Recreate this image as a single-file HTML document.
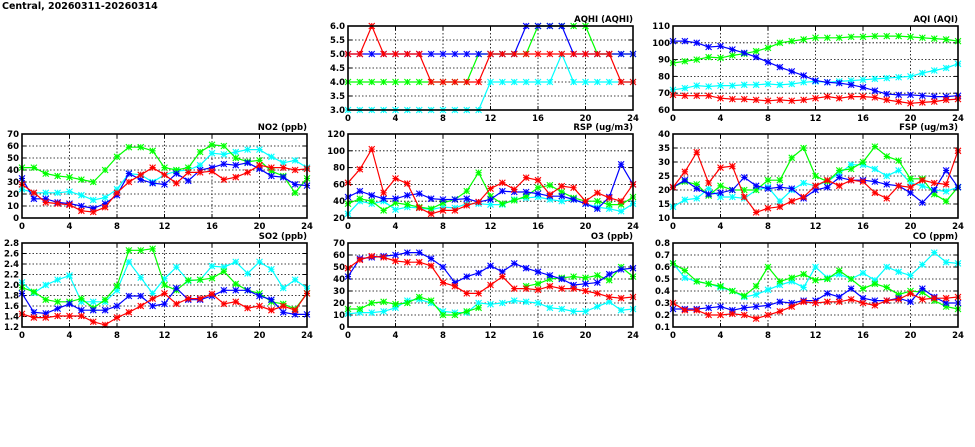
<!DOCTYPE html>
<html><head><meta charset="utf-8"><style>
html,body{margin:0;padding:0;background:#fff;width:975px;height:447px;overflow:hidden}
svg text{font-family:"DejaVu Sans","Liberation Sans",sans-serif;font-weight:bold;font-size:8.5px;fill:#000}
</style></head><body>
<svg id="s" width="975" height="447" xmlns="http://www.w3.org/2000/svg">
<text x="2" y="9" style="font-size:9.5px">Central, 20260311-20260314</text>
</svg>
<script>
const N=null;
const P=[
{t:"AQHI (AQHI)",x:348,y:26,min:3,max:6,st:0.5,d:1,s:{
c:[3,3,3,3,3,3,3,3,3,3,3,3,4,4,4,4,4,4,5,4,4,4,4,4,4],
g:[4,4,4,4,4,4,4,4,4,4,4,5,5,5,5,5,6,6,6,6,6,5,5,5,5],
b:[5,5,5,5,5,5,5,5,5,5,5,5,5,5,5,6,6,6,6,5,5,5,5,5,5],
r:[5,5,6,5,5,5,5,4,4,4,4,4,5,5,5,5,5,5,5,5,5,5,5,4,4]}},
{t:"AQI (AQI)",x:673,y:26,min:60,max:110,st:10,d:0,s:{
c:[72,73,74.5,74,74.5,74.5,75,75,75.5,75,75.5,76.5,77,76.5,77,77.5,78,78.5,79,79.5,80,82,83.5,85,87.5],
g:[88,89,90,91.5,91,92.5,93.5,95,97,100,101,102,103,103,103,103.5,103.5,104,104,104,103.5,103,102.5,102,101],
b:[101,101,100,97.5,98,96,94,91.5,88.5,85.5,83,80.5,77.5,76.5,76,75,73.5,71.5,69.5,69,69,68.5,68,68,68.5],
r:[69,68.5,68.5,68.5,67,66.5,66.5,66,65.5,66,65.5,66,67,68,67,68,68,67.5,66,65,64,64.5,65,66,66.5]}},
{t:"NO2 (ppb)",x:22,y:134,min:0,max:70,st:10,d:0,s:{
c:[24,21,21,21,22,19,15,17,24,37,36,30,36,39,40,44,54,53,55,57,57,51,46,48,42],
g:[42,42,37,35,34,32,30,40,51,59,59,56,42,40,42,55,61,60,50,47,48,39,35,21,33],
b:[33,16,16,13,12,10,8,12,19,37,32,29,28,37,31,40,42,45,44,46,41,35,34,28,27],
r:[28,21,13,12,11,6,5,9,21,30,36,42,36,29,38,38,39,32,34,38,44,42,42,40,41]}},
{t:"RSP (ug/m3)",x:348,y:134,min:20,max:120,st:20,d:0,s:{
c:[25,40,37,40,30,33,32,30,33,32,37,37,36,36,42,44,45,42,40,42,37,33,31,28,37],
g:[37,43,40,29,38,36,33,31,38,42,52,74,46,37,41,46,56,59,51,44,40,40,36,36,45],
b:[45,52,47,43,43,47,49,43,42,42,43,39,42,52,51,51,49,46,46,42,37,31,45,84,60],
r:[62,78,102,50,67,61,32,25,29,29,35,39,55,62,54,68,65,48,58,56,40,50,44,40,60]}},
{t:"FSP (ug/m3)",x:673,y:134,min:10,max:40,st:5,d:0,s:{
c:[14,16.5,17,20.5,17.5,17.5,17,20,21,16,20,22.5,21.5,23,26,29,29,27.5,25,27,22.5,21.5,20,19.5,21],
g:[21,23,22,18,21.5,20,20,20,23.5,23.5,31.5,35,25,23,27,27.5,30,35.5,32,30.5,24,24,18.5,16,21],
b:[21,23.5,20.5,18.5,19,20,24.5,21.5,20.5,21,20.5,17,20,21,24.5,23.5,23.5,23,22,21.5,19,15.5,20,27,21],
r:[21,26.5,33.5,22.5,28,28.5,17.5,12,13.5,14,16,17.5,21.5,23.5,21.5,23.5,23,19,17,21.5,21,23.5,22.5,22,34]}},
{t:"SO2 (ppb)",x:22,y:243,min:1.2,max:2.8,st:0.2,d:1,s:{
c:[2.05,1.85,2.0,2.1,2.18,1.68,1.68,1.68,1.9,2.44,2.14,1.84,2.12,2.34,2.08,2.1,2.36,2.34,2.44,2.22,2.44,2.3,1.94,2.1,1.94],
g:[1.95,1.87,1.72,1.68,1.68,1.74,1.56,1.72,1.98,2.66,2.66,2.69,2.0,1.9,2.09,2.1,2.13,2.26,2.02,1.9,1.84,1.68,1.64,1.54,1.84],
b:[1.84,1.48,1.46,1.55,1.64,1.52,1.52,1.52,1.6,1.79,1.79,1.6,1.64,1.94,1.72,1.72,1.79,1.9,1.9,1.9,1.79,1.72,1.48,1.44,1.44],
r:[1.45,1.38,1.38,1.41,1.41,1.41,1.3,1.24,1.38,1.48,1.6,1.74,1.84,1.64,1.74,1.74,1.83,1.64,1.68,1.56,1.6,1.52,1.6,1.52,1.84]}},
{t:"O3 (ppb)",x:348,y:243,min:0,max:70,st:10,d:0,s:{
c:[11,12,12,13,16,22,23,20,13,12,12,20,19,20,22,21,20,16,15,13,13,17,21,14,15],
g:[15,15,20,21,19,20,25,22,10,10,13,16,N,N,N,34,36,40,41,42,41,43,39,50,42],
b:[42,57,58,59,60,62,62,57,50,37,42,45,51,46,53,49,46,43,40,35,36,37,44,48,49],
r:[49,56,59,58,55,54,54,51,37,34,28,28,35,42,32,32,31,34,32,32,30,28,25,24,25]}},
{t:"CO (ppm)",x:673,y:243,min:0.1,max:0.8,st:0.1,d:1,s:{
c:[0.63,0.51,0.48,0.46,0.43,0.4,0.35,0.37,0.41,0.45,0.48,0.43,0.6,0.51,0.54,0.5,0.55,0.49,0.6,0.56,0.53,0.62,0.72,0.64,0.63],
g:[0.63,0.57,0.48,0.46,0.44,0.4,0.36,0.44,0.6,0.48,0.51,0.54,0.49,0.5,0.57,0.5,0.42,0.46,0.43,0.37,0.4,0.39,0.32,0.27,0.25],
b:[0.25,0.25,0.25,0.26,0.27,0.24,0.26,0.27,0.28,0.31,0.3,0.32,0.32,0.38,0.35,0.42,0.34,0.32,0.32,0.34,0.31,0.42,0.35,0.3,0.3],
r:[0.3,0.24,0.24,0.2,0.2,0.21,0.2,0.17,0.2,0.23,0.27,0.31,0.3,0.31,0.31,0.33,0.3,0.28,0.32,0.33,0.38,0.33,0.34,0.34,0.35]}}
];
const C={c:"#00ffff",g:"#00ff00",b:"#0000ff",r:"#ff0000"};
const W=285,H=84;let h="";
for(const p of P){
 const X=i=>p.x+i*W/24,Y=v=>p.y+H-(v-p.min)/(p.max-p.min)*H;
 const n=Math.round((p.max-p.min)/p.st);
 for(let k=0;k<=n;k++){const v=p.min+k*p.st,y=Y(v);
  if(k>0&&k<n)h+=`<line x1="${p.x}" x2="${p.x+W}" y1="${y}" y2="${y}" stroke="#000" stroke-width="0.8" stroke-dasharray="1.5,2"/>`;
  h+=`<line x1="${p.x}" x2="${p.x+4}" y1="${y}" y2="${y}" stroke="#000"/><line x1="${p.x+W-4}" x2="${p.x+W}" y1="${y}" y2="${y}" stroke="#000"/>`;
  h+=`<text x="${p.x-3}" y="${y+3}" text-anchor="end">${v.toFixed(p.d)}</text>`;}
 for(let i=0;i<=24;i+=4){const x=X(i);
  if(i>0&&i<24)h+=`<line x1="${x}" x2="${x}" y1="${p.y}" y2="${p.y+H}" stroke="#000" stroke-width="0.8" stroke-dasharray="1.5,2"/>`;
  h+=`<line x1="${x}" x2="${x}" y1="${p.y+H-4}" y2="${p.y+H}" stroke="#000"/><line x1="${x}" x2="${x}" y1="${p.y}" y2="${p.y+4}" stroke="#000"/>`;
  h+=`<text x="${x}" y="${p.y+H+11}" text-anchor="middle">${i}</text>`;}
 for(const k of ["c","g","b","r"]){const a=p.s[k];let d="",m="";
  a.forEach((v,i)=>{if(v===null)return;const x=X(i),y=Y(v);
   d+=(i>0&&a[i-1]!==null?"L":"M")+x.toFixed(1)+","+y.toFixed(1);
   m+=`M${x-3},${y-3}L${x+3},${y+3}M${x-3},${y+3}L${x+3},${y-3}M${x-3},${y}L${x+3},${y}M${x},${y-3}L${x},${y+3}`;});
  h+=`<path d="${d}" fill="none" stroke="${C[k]}" stroke-width="1.2"/><path d="${m}" stroke="${C[k]}" stroke-width="1.1"/>`;}
 h+=`<rect x="${p.x}" y="${p.y}" width="${W}" height="${H}" fill="none" stroke="#000" stroke-width="1.6"/>`;
 h+=`<text x="${p.x+W}" y="${p.y-4}" text-anchor="end">${p.t}</text>`;
}
document.getElementById("s").insertAdjacentHTML("beforeend",h);
</script>
</body></html>
